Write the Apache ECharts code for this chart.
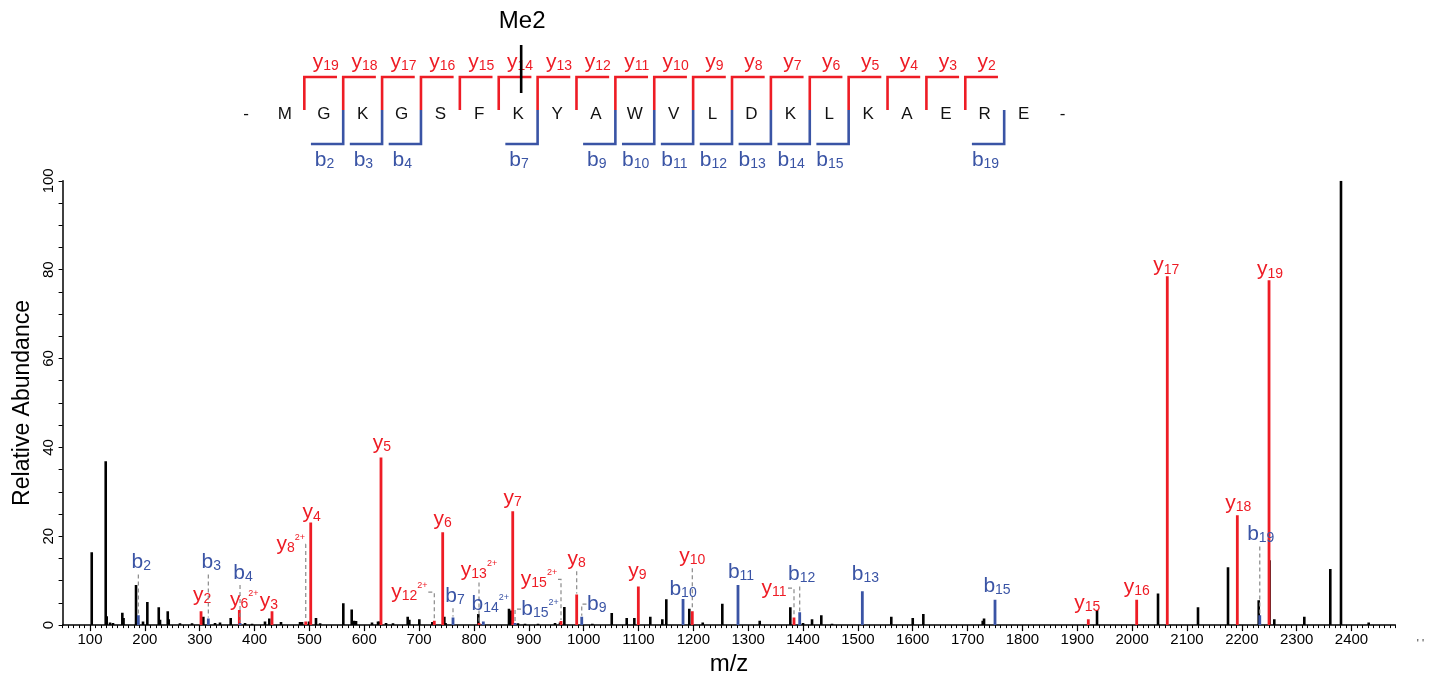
<!DOCTYPE html>
<html><head><meta charset="utf-8">
<script src="https://cdn.jsdelivr.net/npm/echarts@6/dist/echarts.min.js"></script>
<style>html,body{margin:0;padding:0;background:#fff}#c{width:1440px;height:681px}</style>
</head><body><div id="c"></div>
<script>
// ---------------- data ----------------
const sequence = ['M','G','K','G','S','F','K','Y','A','W','V','L','D','K','L','K','A','E','R','E'];
const yIonsSeen = [19,18,17,16,15,14,13,12,11,10,9,8,7,6,5,4,3,2];
const bIonsSeen = [2,3,4,7,9,10,11,12,13,14,15,19];
const modSite = 7;
const modLabel = 'Me2';

const blackMz = [103.1,128.6,130.4,136.5,141.9,158.9,161.1,183.9,196.6,204.5,225.3,227.6,241.7,243.5,264,286,306.6,327.9,337,356.5,382.6,395.4,419,426.9,448.2,482.9,486.5,499.3,512,519.5,561.8,577.1,581.3,585,614.1,625.1,627.8,639.7,652.4,679.2,682.2,700.4,724.1,746,748.2,808,863.9,867,880.3,893.1,916.8,947.8,956.9,964.8,1015.8,1051.2,1078.5,1092.4,1121.5,1143.4,1150.7,1192.6,1217.1,1252.8,1321,1376.8,1400,1416.4,1433.3,1452.8,1560.9,1600,1619.3,1727.6,1730,1936,2047.2,2120.1,2174.8,2230.8,2250.5,2259.2,2313.9,2361.3,2380.8,2431.3];
const blackInt = [16.4,36.9,2.0,0.6,0.5,2.8,1.6,9.0,0.8,5.2,4.0,1.2,3.1,1.3,0.4,0.4,1.9,0.5,0.6,1.6,0.5,0.3,0.8,1.5,0.7,0.7,0.7,0.8,1.6,0.4,4.9,3.5,1.0,0.9,0.6,0.8,0.8,0.5,0.4,1.9,1.2,1.3,0.7,1.9,0.5,2.5,3.7,3.3,0.4,0.3,0.3,0.5,0.6,4.1,0.3,2.7,1.6,1.6,1.9,1.3,5.8,3.7,0.6,4.8,1.0,4.0,0.5,1.3,2.2,0.3,1.9,1.6,2.5,1.0,1.5,3.4,7.1,4.0,13.0,5.6,14.6,1.3,1.9,12.6,100,0.6];

const yMz     = [302.4,372.2,431.8,493.3,502.4,630.5,727.7,743,809.2,870.7,958.7,987.3,1099.7,1198.1,1383.5,1920.1,2008.3,2064.1,2191.8,2249.6];
const yInt    = [3.1,3.4,3.1,0.8,23.1,37.7,1.0,20.9,0.5,25.6,0.9,6.9,8.7,3.1,1.7,1.3,5.7,78.5,24.7,77.6];
const yIon    = ['y2','y6','y3','y8','y4','y5','y12','y6','y13','y7','y15','y8','y9','y10','y11','y15','y16','y17','y18','y19'];
const yCharge = ['','2+','','2+','','','2+','','2+','','2+','','','','','','','','',''];

const bMz     = [188.1,315.7,373.5,761.8,817.1,874.9,996.5,1181.2,1281.4,1393.9,1508.1,1750,2232.7];
const bInt    = [2.2,1.5,0.5,1.7,0.8,0.5,1.9,5.9,9.0,2.9,7.6,5.7,2.2];
const bIon    = ['b2','b3','b4','b7','b14','b15','b9','b10','b11','b12','b13','b15','b19'];
const bCharge = ['','','','','2+','2+','','','','','','',''];

const xTickValues = [100,200,300,400,500,600,700,800,900,1000,1100,1200,1300,1400,1500,1600,1700,1800,1900,2000,2100,2200,2300,2400];
const yTickValues = [0,20,40,60,80,100];

// ---------------- layout (label placement, not data) ----------------
const yLabelLevel = [6.7,5.6,5.4,18.2,25.3,41.0,7.4,23.8,12.3,28.5,10.3,14.8,12.1,15.5,8.3,4.9,8.5,80.9,27.4,80.0];
const yLabelDx    = [1,5,-3,-15,1,1,-25,0,0,0,-22,0,-1,0,-20,-1,0,-1,1,1];
const yLabelDash  = [0,0,0,1,0,0,1,0,1,0,1,1,0,1,1,0,0,0,0,0];
const bLabelLevel = [14.1,14.1,11.7,6.5,4.7,3.6,4.7,8.1,11.9,11.4,11.4,8.7,20.4];
const bLabelDx    = [3,3,3,2,7,25,15,0,3,2,3,2,1];
const bLabelDash  = [1,1,1,1,0,1,1,0,0,1,0,0,1];

const FONT = '"Liberation Sans", Arial, sans-serif';
const RED = '#ee1c25';
const BLUE = '#3a54a5';
const GRAY = '#8a8a8a';
const SEQ = {top: 77, mid: 110, bot: 144, text: 114, yLab: 62, bLab: 160, modText: 21, modTop: 45, modBot: 93};

function ionRich(color) {
  return {
    m: {fontSize: 21, fontFamily: FONT, fill: color, lineHeight: 22},
    s: {fontSize: 14, fontFamily: FONT, fill: color, verticalAlign: 'bottom', lineHeight: 20},
    p: {fontSize: 9, fontFamily: FONT, fill: color, verticalAlign: 'top', lineHeight: 10}
  };
}
function ionText(ion, charge) {
  return '{m|' + ion[0] + '}{s|' + ion.slice(1) + '}' + (charge ? '{p|' + charge + '}' : '');
}

function peakSeries(mz, inten, color, w, z) {
  return {
    type: 'custom', xAxisIndex: 0, yAxisIndex: 0, silent: true, z: z, clip: true,
    data: mz.map((m, i) => [m, inten[i]]),
    renderItem(params, api) {
      const p0 = api.coord([api.value(0), 0]);
      const p1 = api.coord([api.value(0), api.value(1)]);
      return {type: 'rect', shape: {x: p0[0] - w / 2, y: p1[1], width: w, height: Math.max(0.6, p0[1] - p1[1])}, style: {fill: color}};
    }
  };
}

function labelSeries(mz, inten, ion, charge, level, dx, dash, color) {
  return {
    type: 'custom', xAxisIndex: 0, yAxisIndex: 0, silent: true, z: 6, clip: false,
    data: mz.map((m, i) => [m, inten[i]]),
    renderItem(params, api) {
      const i = params.dataIndex;
      const peak = api.coord([api.value(0), api.value(1)]);
      const lab = api.coord([api.value(0), level[i]]);
      const cx = peak[0] + dx[i];
      const cy = lab[1];
      const children = [];
      if (dash[i]) {
        const digits = ion[i].length - 1;
        const halfW = (11 + 7.5 * digits + (charge[i] ? 10 : 0)) / 2;
        const ds = {stroke: GRAY, lineWidth: 1.2, lineDash: [4, 3], fill: null};
        if (Math.abs(dx[i]) > 8) {
          const edge = dx[i] > 0 ? cx - halfW - 1 : cx + halfW + 1;
          children.push({type: 'polyline', shape: {points: [[edge, cy], [peak[0], cy], [peak[0], peak[1] - 1]]}, style: ds});
        } else {
          children.push({type: 'line', shape: {x1: peak[0], y1: cy + 12, x2: peak[0], y2: peak[1] - 1}, style: ds});
        }
      }
      children.push({type: 'text', style: {x: cx, y: cy, text: ionText(ion[i], charge[i]), rich: ionRich(color), align: 'center', verticalAlign: 'middle'}});
      return {type: 'group', children};
    }
  };
}

const residuesDisplay = ['-'].concat(sequence, ['-']);

const seqSeries = [
  {
    type: 'custom', xAxisIndex: 2, yAxisIndex: 1, silent: true, clip: false,
    data: residuesDisplay.map((r, i) => [i]),
    renderItem(params, api) {
      const p = api.coord([api.value(0), SEQ.text]);
      return {type: 'text', style: {x: p[0], y: p[1], text: residuesDisplay[params.dataIndex], fill: '#111', fontSize: 17, fontFamily: FONT, align: 'center', verticalAlign: 'middle'}};
    }
  },
  {
    type: 'custom', xAxisIndex: 2, yAxisIndex: 1, silent: true, clip: false,
    data: yIonsSeen.map(n => [sequence.length - n + 0.5, n]),
    renderItem(params, api) {
      const x = api.value(0), n = api.value(1);
      const a = api.coord([x, SEQ.mid]), b = api.coord([x, SEQ.top]), c = api.coord([x + 0.84, SEQ.top]);
      const l = api.coord([x + 0.55, SEQ.yLab]);
      return {type: 'group', children: [
        {type: 'polyline', shape: {points: [a, b, c]}, style: {stroke: RED, lineWidth: 2.6, fill: null}},
        {type: 'text', style: {x: l[0], y: l[1], text: ionText('y' + n, ''), rich: ionRich(RED), align: 'center', verticalAlign: 'middle'}}
      ]};
    }
  },
  {
    type: 'custom', xAxisIndex: 2, yAxisIndex: 1, silent: true, clip: false,
    data: bIonsSeen.map(n => [n + 0.5, n]),
    renderItem(params, api) {
      const x = api.value(0), n = api.value(1);
      const a = api.coord([x, SEQ.mid]), b = api.coord([x, SEQ.bot]), c = api.coord([x - 0.83, SEQ.bot]);
      const l = api.coord([x - 0.48, SEQ.bLab]);
      return {type: 'group', children: [
        {type: 'polyline', shape: {points: [a, b, c]}, style: {stroke: BLUE, lineWidth: 2.6, fill: null}},
        {type: 'text', style: {x: l[0], y: l[1], text: ionText('b' + n, ''), rich: ionRich(BLUE), align: 'center', verticalAlign: 'middle'}}
      ]};
    }
  },
  {
    type: 'custom', xAxisIndex: 2, yAxisIndex: 1, silent: true, clip: false, z: 8,
    data: [[modSite]],
    renderItem(params, api) {
      const t = api.coord([api.value(0), SEQ.modTop]), b = api.coord([api.value(0), SEQ.modBot]);
      const tx = api.coord([api.value(0), SEQ.modText]);
      return {type: 'group', children: [
        {type: 'line', shape: {x1: t[0] + 3, y1: t[1], x2: b[0] + 3, y2: b[1]}, style: {stroke: '#000', lineWidth: 2.6}},
        {type: 'text', style: {x: tx[0] + 4, y: tx[1], text: modLabel, fill: '#000', fontSize: 24, fontFamily: FONT, align: 'center', verticalAlign: 'middle'}}
      ]};
    }
  }
];

const chart = echarts.init(document.getElementById('c'), null, {renderer: 'canvas'});
chart.setOption({
  animation: false,
  backgroundColor: '#fff',
  grid: [
    {left: 62.6, right: 44.6, top: 180.8, bottom: 52.7},
    {left: 246, right: 377.5, top: 0, height: 175}
  ],
  xAxis: [
    {gridIndex: 0, type: 'value', min: 50, max: 2480, interval: 10,
     axisLine: {onZero: false, lineStyle: {color: '#000', width: 1.5}},
     axisTick: {length: 3, lineStyle: {color: '#000', width: 1}},
     axisLabel: {show: false}, splitLine: {show: false}},
    {gridIndex: 0, type: 'value', min: 50, max: 2480, position: 'bottom',
     axisLine: {show: false},
     axisTick: {show: true, customValues: xTickValues, length: 6, lineStyle: {color: '#000', width: 1.2}},
     axisLabel: {customValues: xTickValues, formatter: v => String(v), fontSize: 15, color: '#000', fontFamily: FONT, margin: 7},
     splitLine: {show: false},
     name: 'm/z', nameLocation: 'middle', nameGap: 24,
     nameTextStyle: {fontSize: 24, fontFamily: FONT, color: '#000'}},
    {gridIndex: 1, type: 'value', min: 0, max: 21, show: false}
  ],
  yAxis: [
    {gridIndex: 0, type: 'value', min: 0, max: 100, interval: 5,
     axisLine: {show: true, lineStyle: {color: '#000', width: 1.5}},
     axisTick: {show: true, length: 4, lineStyle: {color: '#000'}},
     axisLabel: {customValues: yTickValues, formatter: v => String(v), rotate: 90, fontSize: 15, color: '#000', fontFamily: FONT, margin: 6},
     splitLine: {show: false},
     name: 'Relative Abundance', nameLocation: 'middle', nameGap: 28,
     nameTextStyle: {fontSize: 23, fontFamily: FONT, color: '#000'}},
    {gridIndex: 1, type: 'value', min: 0, max: 175, inverse: true, show: false}
  ],
  graphic: [
    {type: 'text', right: 16, top: 638, style: {text: "' '", fontSize: 11, fill: '#333', fontFamily: FONT}}
  ],
  series: [
    peakSeries(blackMz, blackInt, '#000', 2.6, 2),
    peakSeries(yMz, yInt, RED, 2.8, 3),
    peakSeries(bMz, bInt, BLUE, 2.8, 3),
    labelSeries(yMz, yInt, yIon, yCharge, yLabelLevel, yLabelDx, yLabelDash, RED),
    labelSeries(bMz, bInt, bIon, bCharge, bLabelLevel, bLabelDx, bLabelDash, BLUE)
  ].concat(seqSeries)
});
</script></body></html>
